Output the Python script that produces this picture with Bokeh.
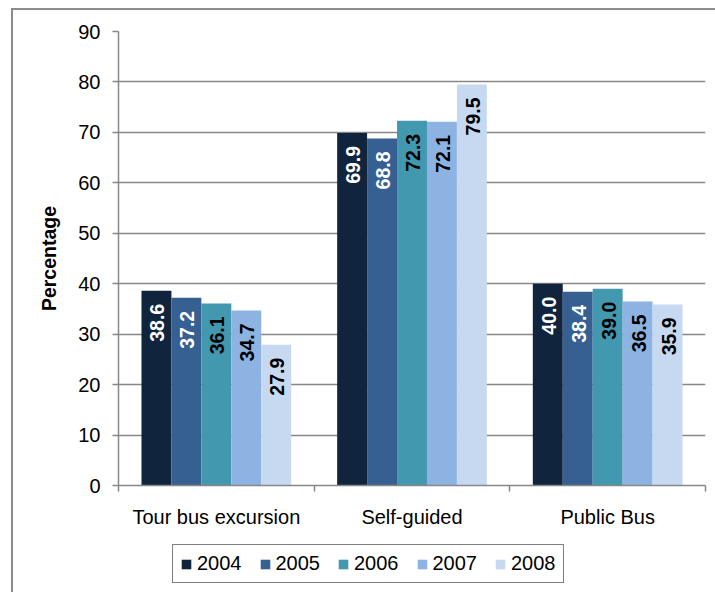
import numpy as np
from bokeh.plotting import figure
from bokeh.layouts import column
from bokeh.models import (ColumnDataSource, FixedTicker, Legend, LegendItem,
                          Range1d)
from bokeh.embed import file_html
from bokeh.resources import INLINE
from bokeh.core.properties import value

categories = ["Tour bus excursion", "Self-guided", "Public Bus"]
years = ["2004", "2005", "2006", "2007", "2008"]
v2004 = [38.6, 69.9, 40.0]
v2005 = [37.2, 68.8, 38.4]
v2006 = [36.1, 72.3, 39.0]
v2007 = [34.7, 72.1, 36.5]
v2008 = [27.9, 79.5, 35.9]
series = [v2004, v2005, v2006, v2007, v2008]
colors = ["#10243E", "#366092", "#4298AF", "#8DB3E2", "#C6D9F1"]
label_colors = ["white", "white", "black", "black", "black"]
y_ticks = list(range(0, 91, 10))

FONT = "Liberation Sans"
GRAY = "#878787"

# ---- main chart ----
p = figure(width=702, height=530, output_backend="svg", toolbar_location=None,
           x_range=Range1d(0, len(categories)), y_range=Range1d(0, 90),
           min_border_left=105, min_border_right=10, min_border_top=21,
           min_border_bottom=55)
p.outline_line_color = None
p.xgrid.grid_line_color = None
p.ygrid.grid_line_color = GRAY
p.ygrid.grid_line_width = 1.5
p.ygrid.ticker = FixedTicker(ticks=y_ticks)

bar_w = 0.153
sources = []
for i, (yr, vals) in enumerate(zip(years, series)):
    xs = [k + 0.5 + (i - 2) * bar_w for k in range(len(categories))]
    src = ColumnDataSource(dict(x=xs, top=vals,
                                lab=["%.1f" % v for v in vals]))
    sources.append(src)
    p.vbar(x="x", top="top", width=bar_w, bottom=0, source=src,
           fill_color=colors[i], line_color=None)
    p.text(x="x", y="top", text="lab", source=src, angle=np.pi / 2,
           text_align="right", text_baseline="middle", x_offset=1, y_offset=13,
           text_font=value(FONT), text_font_style="bold",
           text_font_size="19.5px", text_color=label_colors[i])

# y axis
ya = p.yaxis[0]
ya.ticker = FixedTicker(ticks=y_ticks)
ya.axis_line_color = GRAY
ya.axis_line_width = 1.5
ya.major_tick_line_color = GRAY
ya.major_tick_line_width = 1.5
ya.major_tick_out = 6
ya.major_tick_in = 0
ya.minor_tick_line_color = None
ya.major_label_text_font = FONT
ya.major_label_text_font_size = "20px"
ya.major_label_text_color = "black"
ya.major_label_standoff = 12
ya.axis_label = "Percentage"
ya.axis_label_text_font = FONT
ya.axis_label_text_font_style = "bold"
ya.axis_label_text_font_size = "19.5px"
ya.axis_label_text_color = "black"
ya.axis_label_standoff = 15

# x axis: ticks at category boundaries, labels at centers
xa = p.xaxis[0]
centers = [k + 0.5 for k in range(len(categories))]
xa.ticker = FixedTicker(ticks=centers,
                        minor_ticks=list(range(len(categories) + 1)))
xa.major_label_overrides = {c: name for c, name in zip(centers, categories)}
xa.axis_line_color = GRAY
xa.axis_line_width = 1.5
xa.major_tick_line_color = None
xa.major_tick_out = 0
xa.major_tick_in = 0
xa.minor_tick_line_color = GRAY
xa.minor_tick_line_width = 1.5
xa.minor_tick_out = 6
xa.minor_tick_in = 0
xa.major_label_text_font = FONT
xa.major_label_text_font_size = "20px"
xa.major_label_text_color = "black"
xa.major_label_standoff = 14

# ---- legend strip (hidden copies of the series supply legend glyphs) ----
q = figure(width=702, height=52, output_backend="svg", toolbar_location=None,
           x_axis_location=None, y_axis_location=None,
           x_range=Range1d(0, len(categories)), y_range=Range1d(0, 90),
           min_border=0)
q.outline_line_color = None
q.grid.grid_line_color = None
items = []
for i, yr in enumerate(years):
    r = q.vbar(x="x", top="top", width=bar_w, bottom=0, source=sources[i],
               fill_color=colors[i], line_color=None)
    r.visible = False
    items.append(LegendItem(label=yr, renderers=[r]))
legend = Legend(items=items, orientation="horizontal", location=(54, 9),
                label_text_font=FONT, label_text_font_size="20px",
                label_text_color="black",
                glyph_width=12, glyph_height=12, label_standoff=5,
                spacing=17, padding=7, margin=0,
                border_line_color="black", border_line_width=1.5,
                label_height=18, inactive_fill_alpha=0,
                click_policy="none")
q.add_layout(legend, "center")

layout = column(p, q, spacing=0,
                styles={"margin-left": "11px", "margin-top": "8px",
                        "border-left": "2px solid #8c8c8c",
                        "border-top": "2px solid #8c8c8c"})

open("out.html", "w").write(file_html(layout, INLINE))
